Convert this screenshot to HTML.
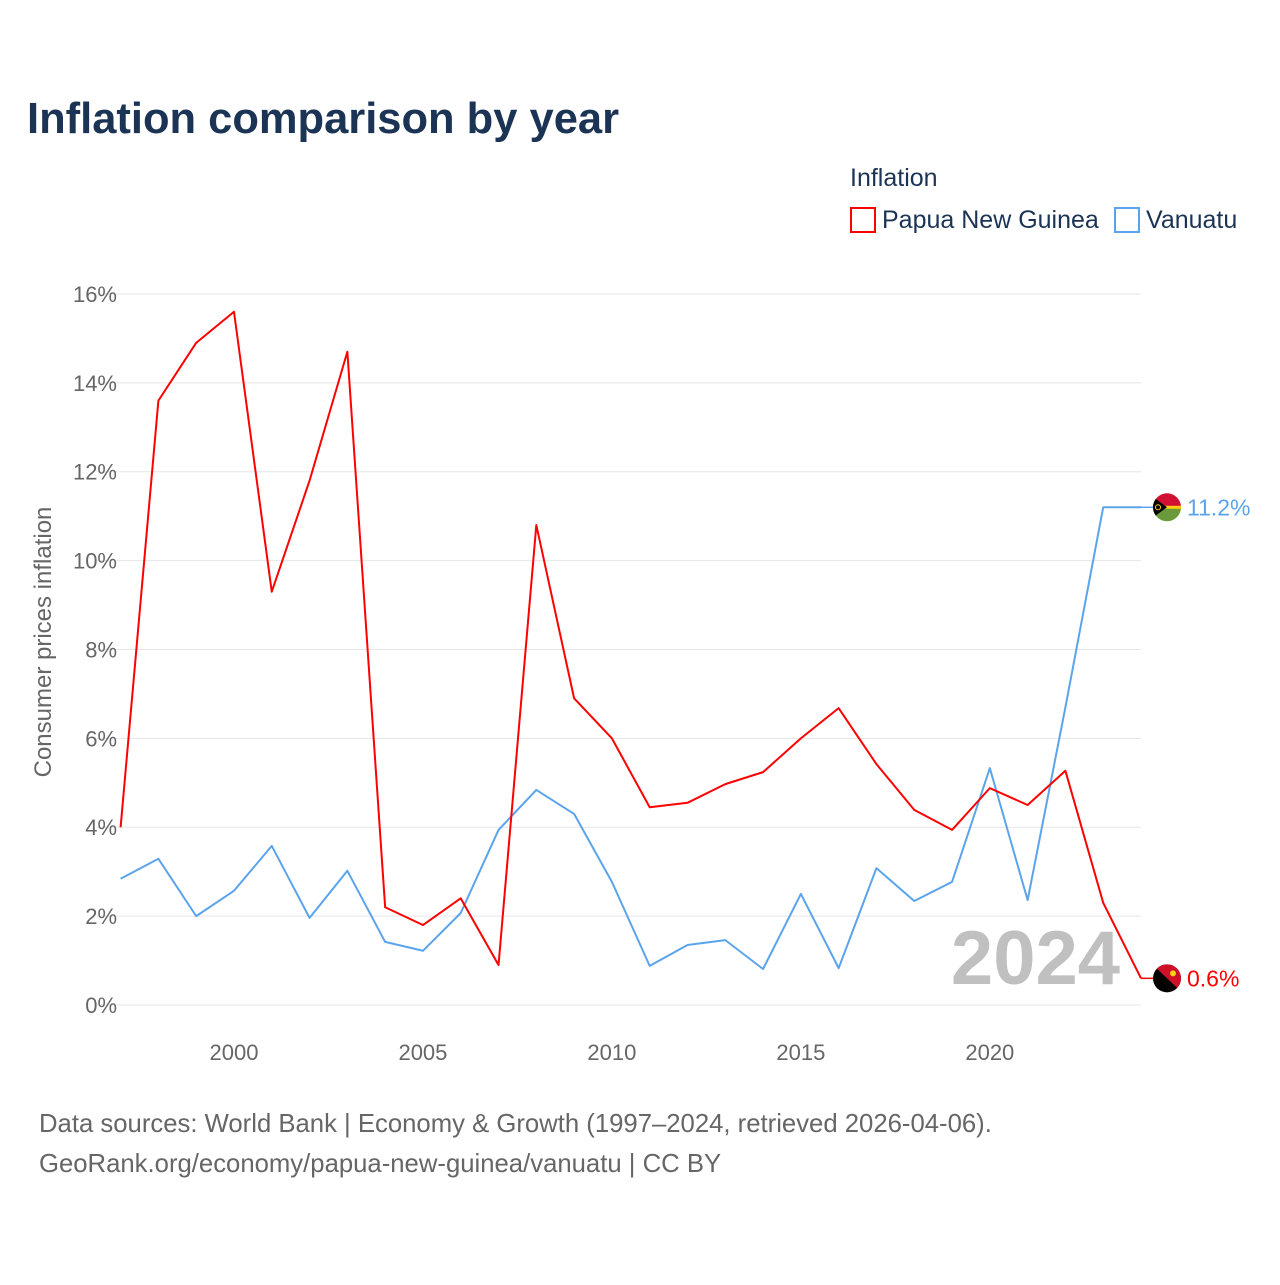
<!DOCTYPE html>
<html><head><meta charset="utf-8"><style>
body{margin:0;background:#fff;font-family:"Liberation Sans",sans-serif;}
svg text{font-family:"Liberation Sans",sans-serif;}
</style></head><body>
<svg width="1280" height="1280" viewBox="0 0 1280 1280">
<defs><clipPath id="cpv"><circle cx="1167" cy="507.3" r="14"/></clipPath><clipPath id="cpp"><circle cx="1167" cy="978.3" r="14"/></clipPath></defs>
<text x="27" y="133" font-size="43.5" font-weight="bold" fill="#1b3354" textLength="592">Inflation comparison by year</text>
<text x="850" y="186" font-size="25" fill="#1b3354">Inflation</text>
<g><rect x="851" y="208" width="24" height="24" fill="none" stroke="#ff0000" stroke-width="2"/><text x="882" y="228" font-size="25" fill="#1b3354">Papua New Guinea</text></g>
<g><rect x="1115" y="208" width="24" height="24" fill="none" stroke="#5ba4ec" stroke-width="2"/><text x="1146" y="228" font-size="25" fill="#1b3354">Vanuatu</text></g>
<text transform="translate(51,642) rotate(-90)" text-anchor="middle" font-size="24" fill="#666">Consumer prices inflation</text>
<g id="grid"></g><g id="series"></g>
<text x="1120" y="984" text-anchor="end" font-size="76" font-weight="bold" fill="#c0c0c0">2024</text>
<text x="39" y="1132" font-size="25.7" fill="#666">Data sources: World Bank | Economy &amp; Growth (1997–2024, retrieved 2026-04-06).</text>
<text x="39" y="1172" font-size="25.7" fill="#666">GeoRank.org/economy/papua-new-guinea/vanuatu | CC BY</text>
</svg>
<script>
const years=[1997,1998,1999,2000,2001,2002,2003,2004,2005,2006,2007,2008,2009,2010,2011,2012,2013,2014,2015,2016,2017,2018,2019,2020,2021,2022,2023,2024];
const pngValues=[4.0,13.6,14.9,15.6,9.3,11.8,14.7,2.2,1.8,2.4,0.9,10.8,6.9,6.0,4.45,4.55,4.97,5.24,6.0,6.68,5.42,4.39,3.94,4.88,4.5,5.27,2.3,0.6];
const vanValues=[2.84,3.29,2.0,2.57,3.58,1.96,3.02,1.42,1.22,2.07,3.94,4.84,4.3,2.77,0.88,1.35,1.46,0.81,2.5,0.83,3.08,2.34,2.77,5.33,2.36,6.7,11.2,11.2];
const yTicks=[0,2,4,6,8,10,12,14,16];
const xTicks=[2000,2005,2010,2015,2020];
const NS="http://www.w3.org/2000/svg";
const X=y=>120.6+(y-1997)*(1141-120.6)/27;
const Y=v=>1005-v*44.44;
function mk(t,a,p,txt){const e=document.createElementNS(NS,t);for(const k in a)e.setAttribute(k,a[k]);if(txt!=null)e.textContent=txt;p.appendChild(e);return e;}
const grid=document.getElementById('grid'),ser=document.getElementById('series');
yTicks.forEach(v=>{
 const l=mk('line',{x1:97,x2:1141,y1:Y(v),y2:Y(v),stroke:'#e6e6e6','stroke-width':1},grid);
 
 
 const t=mk('text',{x:117,y:Y(v)+8,'text-anchor':'end','font-size':22,fill:'#666'},grid,v+'%');
 
 
});
xTicks.forEach(v=>{
 const t=mk('text',{x:X(v),y:1060,'text-anchor':'middle','font-size':22,fill:'#666'},grid,String(v));
 
 
});
function series(vals,color,name,flag){
 const pts=vals.map((v,i)=>X(years[i])+','+Y(vals[i])).join(' ');
 const pl=mk('polyline',{points:pts,fill:'none',stroke:color,'stroke-width':2,'stroke-linejoin':'round'},ser);
 
 
 const last=vals[vals.length-1],ly=Y(last);
 mk('line',{x1:1141,x2:1155,y1:ly,y2:ly,stroke:color,'stroke-width':1.5},ser);
 const g=mk('g',{},ser);
 
 
 const c=mk('g',{transform:`translate(0,${ly-(flag==='png'?978.3:507.3)})`},g);
 const cg=mk('g',{'clip-path':flag==='png'?'url(#cpp)':'url(#cpv)'},c);
 const b=flag==='png'?978.3:507.3;
 if(flag==='png'){
  mk('rect',{x:1150,y:b-16,width:34,height:32,fill:'#000'},cg);
  mk('path',{d:`M1150 ${b-16}L1184 ${b-16}L1184 ${b+16}Z`,fill:'#ce1126'},cg);
  mk('circle',{cx:1173,cy:b-5,r:3,fill:'#fcd116'},cg);
 }else{
  mk('rect',{x:1150,y:b-16,width:34,height:16,fill:'#d21034'},cg);
  mk('rect',{x:1150,y:b,width:34,height:16,fill:'#6a9a3a'},cg);
  mk('rect',{x:1150,y:b-1.5,width:34,height:3,fill:'#fdce12'},cg);
  mk('path',{d:`M1152 ${b-11}L1167 ${b}L1152 ${b+11}Z`,fill:'#000'},cg);
  mk('circle',{cx:1158,cy:b,r:2.5,fill:'none',stroke:'#fdce12'},cg);
 }
 const t=mk('text',{x:1187,y:ly+8,'font-size':23,fill:color},ser,last.toFixed(1)+'%');
 
 
}
series(vanValues,'#5ba4ec','vanuatu','van');
series(pngValues,'#ff0000','png','png');
</script>
</body></html>
